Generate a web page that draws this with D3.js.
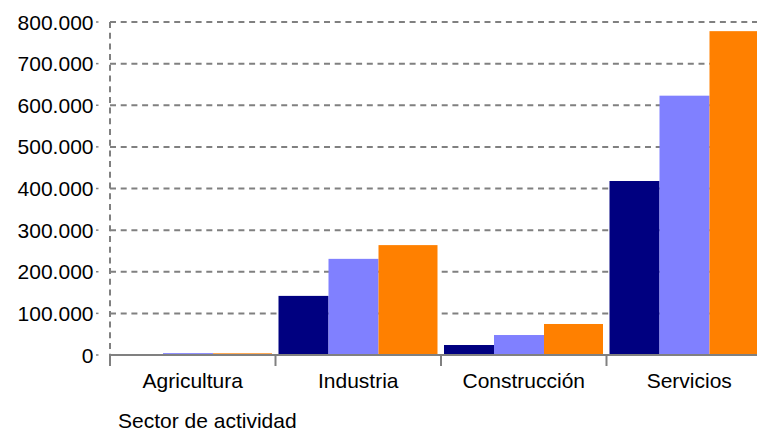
<!DOCTYPE html>
<html><head><meta charset="utf-8">
<script src="https://cdn.jsdelivr.net/npm/d3@7"></script>
<style>body{margin:0;background:#fff}svg{display:block}text{font-family:"Liberation Sans",Arial,sans-serif;fill:#000}</style>
</head><body>
<svg id="c" width="757" height="433"></svg>
<script>
(function(){
const categories = ["Agricultura","Industria","Construcción","Servicios"];
const series1 = [1000, 142000, 24000, 418000];
const series2 = [4500, 231000, 48000, 623000];
const series3 = [4000, 264000, 74500, 778000];
const yTicks = [0,100000,200000,300000,400000,500000,600000,700000,800000];
const yTickLabels = ["0","100.000","200.000","300.000","400.000","500.000","600.000","700.000","800.000"];
const xTitle = "Sector de actividad";
const colors = ["#000080","#8080ff","#ff8000"];

const svg = d3.select("#c");
const mLeft = 110, bandW = 165.5, mTop = 22, mBottom = 355;
const x = d3.scaleBand().domain(categories).range([mLeft, mLeft + bandW*categories.length]).padding(0);
const y = d3.scaleLinear().domain([0, 800000]).range([mBottom, mTop]);

svg.append("g").selectAll("line").data(yTicks.slice(1)).join("line")
  .attr("x1", mLeft).attr("x2", 757).attr("y1", d=>y(d)).attr("y2", d=>y(d))
  .attr("stroke","#808080").attr("stroke-width",2).attr("stroke-dasharray","6,4.7");
svg.append("line").attr("x1",mLeft).attr("x2",mLeft).attr("y1",mTop).attr("y2",mBottom)
  .attr("stroke","#808080").attr("stroke-width",2).attr("stroke-dasharray","6,4.7");
svg.append("g").selectAll("line").data(yTicks).join("line")
  .attr("x1", 96).attr("x2", 98.5).attr("y1", d=>y(d)).attr("y2", d=>y(d))
  .attr("stroke","#808080").attr("stroke-width",1.5);
svg.append("g").selectAll("text").data(yTicks).join("text")
  .attr("x", 93.5).attr("y", d=>y(d)).attr("dy","0.36em").attr("text-anchor","end")
  .attr("font-size",21).text((d,i)=>yTickLabels[i]);

const all = [series1, series2, series3];
const offsets = [3, 53, 103], widths = [50, 50, 59];
all.forEach((s, si) => {
  svg.append("g").selectAll("rect").data(categories).join("rect")
    .attr("x", c => x(c) + offsets[si]).attr("width", widths[si])
    .attr("y", (c,i) => y(s[i])).attr("height", (c,i) => mBottom - y(s[i]))
    .attr("fill", colors[si]);
});

svg.append("line").attr("x1",mLeft).attr("x2",757).attr("y1",mBottom).attr("y2",mBottom)
  .attr("stroke","#808080").attr("stroke-width",2);
const bounds = categories.map(c => x(c));
svg.append("g").selectAll("line").data(bounds).join("line")
  .attr("x1", d=>d).attr("x2", d=>d).attr("y1", mBottom).attr("y2", mBottom+11)
  .attr("stroke","#808080").attr("stroke-width",2);
svg.append("g").selectAll("text").data(categories).join("text")
  .attr("x", c => x(c) + x.bandwidth()/2).attr("y", 388).attr("text-anchor","middle")
  .attr("font-size",21).text(c=>c);
svg.append("text").attr("x",118).attr("y",428).attr("font-size",21).text(xTitle);
})();
</script>
</body></html>
